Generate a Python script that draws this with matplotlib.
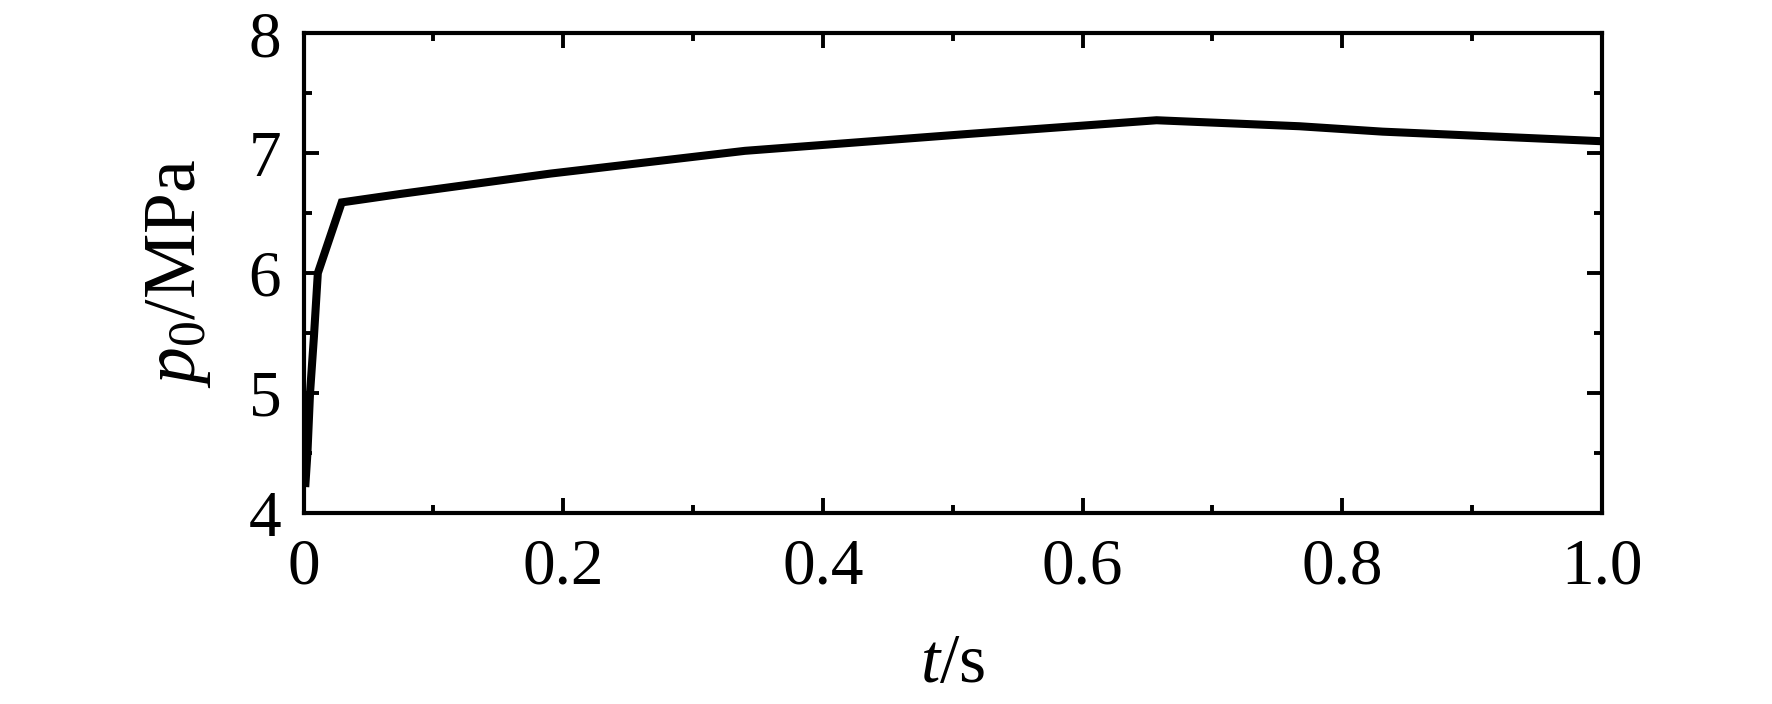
import matplotlib
matplotlib.use("Agg")
import matplotlib.pyplot as plt
from matplotlib.ticker import MultipleLocator, FixedLocator, FixedFormatter

# ---- data ----
t_s = [0.0015, 0.003, 0.005, 0.008, 0.011, 0.0294, 0.0743, 0.190, 0.340,
       0.511, 0.657, 0.767, 0.831, 1.0]
p0_mpa = [4.25, 4.50, 5.00, 5.47, 6.00, 6.59, 6.66, 6.83, 7.02,
          7.16, 7.275, 7.225, 7.18, 7.10]

x_ticks = [0.0, 0.2, 0.4, 0.6, 0.8, 1.0]
x_tick_labels = ["0", "0.2", "0.4", "0.6", "0.8", "1.0"]
y_ticks = [4, 5, 6, 7, 8]
y_tick_labels = ["4", "5", "6", "7", "8"]

plt.rcParams["font.family"] = ["Liberation Serif", "DejaVu Serif"]
plt.rcParams["mathtext.fontset"] = "custom"
plt.rcParams["mathtext.rm"] = "Liberation Serif"
plt.rcParams["mathtext.it"] = "Liberation Serif:italic"

fig = plt.figure(figsize=(17.72, 7.04), dpi=100)
ax = fig.add_axes([0.1713, 0.2713, 0.904 - 0.1713, 0.9527 - 0.2713])

ax.plot(t_s, p0_mpa, color="black", lw=5.8, solid_joinstyle="miter")

ax.set_xlim(0, 1.0)
ax.set_ylim(4, 8)

ax.xaxis.set_major_locator(FixedLocator(x_ticks))
ax.xaxis.set_major_formatter(FixedFormatter(x_tick_labels))
ax.yaxis.set_major_locator(FixedLocator(y_ticks))
ax.yaxis.set_major_formatter(FixedFormatter(y_tick_labels))
ax.xaxis.set_minor_locator(MultipleLocator(0.1))
ax.yaxis.set_minor_locator(MultipleLocator(0.5))

ax.tick_params(which="both", direction="in", top=True, right=True,
               width=2.8, color="black")
ax.tick_params(which="major", length=11, labelsize=47, pad=18)
ax.tick_params(which="minor", length=5.5)
ax.tick_params(axis="y", which="major", pad=16)

for s in ax.spines.values():
    s.set_linewidth(3.0)

ax.set_xlabel(r"$t$/s", fontsize=50, labelpad=26)
ax.set_ylabel(r"$p_0$/MPa", fontsize=53, labelpad=26)

fig.savefig("out.png", dpi=100, facecolor="white")
